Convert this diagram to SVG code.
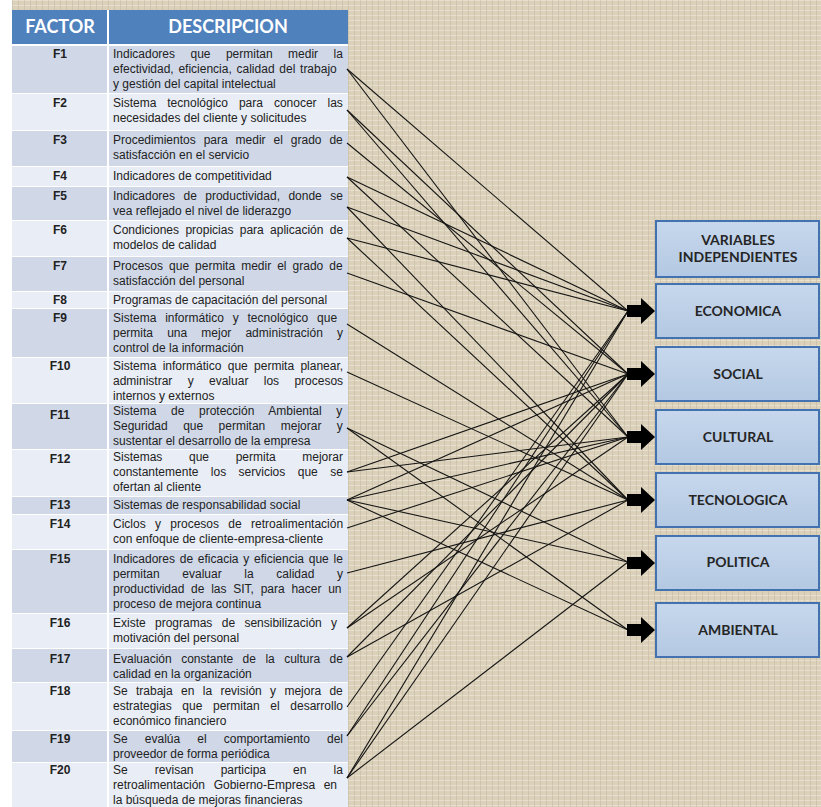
<svg xmlns="http://www.w3.org/2000/svg" width="821" height="807" viewBox="0 0 821 807">
<defs>
<pattern id="burlap" width="6" height="5" patternUnits="userSpaceOnUse">
<rect width="6" height="5" fill="#dbd0b9"/>
<path d="M0 0.5H6" stroke="#e8e0cf" stroke-width="1"/>
<path d="M0.5 0V5" stroke="#c8bba1" stroke-width="1" opacity="0.6"/>
</pattern>
<linearGradient id="boxg" x1="0" y1="0" x2="0" y2="1"><stop offset="0" stop-color="#c7d8ed"/><stop offset="1" stop-color="#b3c8e2"/></linearGradient>
<path id="arr" d="M0,-6H14V-13L28,0L14,13V6H0Z"/>
</defs>
<style>
.d{font-family:"Liberation Sans",Arial,sans-serif;font-size:12px;fill:#222}
.f{font-family:"Liberation Sans",Arial,sans-serif;font-size:12px;font-weight:bold;fill:#222;text-anchor:middle}
.h{font-family:Lato,"Open Sans",sans-serif;font-size:18px;font-weight:bold;fill:#fff;text-anchor:middle}
.hd{fill:#4f81bd}
.rd{fill:#d0d8e8}
.rl{fill:#e9edf5}
.box{fill:url(#boxg);stroke:#4272b0;stroke-width:2}
.bt{font-family:Lato,"Open Sans",sans-serif;font-size:14px;font-weight:bold;fill:#262626;text-anchor:middle}
.c line{stroke:#151515;stroke-width:1.1}
.c use{fill:#000}
</style>
<rect width="821" height="807" fill="#fff"/>
<rect x="12" width="809" height="807" fill="url(#burlap)"/>
<rect x="12" y="10" width="336" height="797" fill="#fff"/>

<g id="header">
<rect class="hd" x="12" y="10" width="95" height="34"/>
<rect class="hd" x="109" y="10" width="239" height="34"/>
<text class="h" x="60" y="33">FACTOR</text>
<text class="h" x="228" y="33">DESCRIPCION</text>
</g>

<g id="f1">
<rect class="rd" x="12" y="46" width="95" height="47"/><rect class="rd" x="109" y="46" width="239" height="47"/>
<text class="f" x="60" y="58">F1</text>
<text class="d" x="113" y="58" word-spacing="12.1">Indicadores que permitan medir la</text>
<text class="d" x="113" y="73" word-spacing="1.4">efectividad, eficiencia, calidad del trabajo</text>
<text class="d" x="113" y="88">y gestión del capital intelectual</text>
</g>
<g id="f2">
<rect class="rl" x="12" y="94" width="95" height="36"/><rect class="rl" x="109" y="94" width="239" height="36"/>
<text class="f" x="60" y="107">F2</text>
<text class="d" x="113" y="107" word-spacing="7.6">Sistema tecnológico para conocer las</text>
<text class="d" x="113" y="122">necesidades del cliente y solicitudes</text>
</g>
<g id="f3">
<rect class="rd" x="12" y="131" width="95" height="35"/><rect class="rd" x="109" y="131" width="239" height="35"/>
<text class="f" x="60" y="144">F3</text>
<text class="d" x="113" y="144" word-spacing="4.6">Procedimientos para medir el grado de</text>
<text class="d" x="113" y="159">satisfacción en el servicio</text>
</g>
<g id="f4">
<rect class="rl" x="12" y="167" width="95" height="19"/><rect class="rl" x="109" y="167" width="239" height="19"/>
<text class="f" x="60" y="180">F4</text>
<text class="d" x="113" y="180">Indicadores de competitividad</text>
</g>
<g id="f5">
<rect class="rd" x="12" y="187" width="95" height="33"/><rect class="rd" x="109" y="187" width="239" height="33"/>
<text class="f" x="60" y="200">F5</text>
<text class="d" x="113" y="200" word-spacing="5.1">Indicadores de productividad, donde se</text>
<text class="d" x="113" y="215">vea reflejado el nivel de liderazgo</text>
</g>
<g id="f6">
<rect class="rl" x="12" y="221" width="95" height="35"/><rect class="rl" x="109" y="221" width="239" height="35"/>
<text class="f" x="60" y="234">F6</text>
<text class="d" x="113" y="234" word-spacing="3">Condiciones propicias para aplicación de</text>
<text class="d" x="113" y="249">modelos de calidad</text>
</g>
<g id="f7">
<rect class="rd" x="12" y="257" width="95" height="34"/><rect class="rd" x="109" y="257" width="239" height="34"/>
<text class="f" x="60" y="270">F7</text>
<text class="d" x="113" y="270" word-spacing="2.7">Procesos que permita medir el grado de</text>
<text class="d" x="113" y="285">satisfacción del personal</text>
</g>
<g id="f8">
<rect class="rl" x="12" y="292" width="95" height="16"/><rect class="rl" x="109" y="292" width="239" height="16"/>
<text class="f" x="60" y="304">F8</text>
<text class="d" x="113" y="304">Programas de capacitación del personal</text>
</g>
<g id="f9">
<rect class="rd" x="12" y="309" width="95" height="48"/><rect class="rd" x="109" y="309" width="239" height="48"/>
<text class="f" x="60" y="322">F9</text>
<text class="d" x="113" y="322" word-spacing="5.5">Sistema informático y tecnológico que</text>
<text class="d" x="113" y="337" word-spacing="10.8">permita una mejor administración y</text>
<text class="d" x="113" y="352">control de la información</text>
</g>
<g id="f10">
<rect class="rl" x="12" y="358" width="95" height="45"/><rect class="rl" x="109" y="358" width="239" height="45"/>
<text class="f" x="60" y="370">F10</text>
<text class="d" x="113" y="370" word-spacing="3">Sistema informático que permita planear,</text>
<text class="d" x="113" y="385" word-spacing="12">administrar y evaluar los procesos</text>
<text class="d" x="113" y="400">internos y externos</text>
</g>
<g id="f11">
<rect class="rd" x="12" y="404" width="95" height="45"/><rect class="rd" x="109" y="404" width="239" height="45"/>
<text class="f" x="60" y="419">F11</text>
<text class="d" x="113" y="415" word-spacing="11.3">Sistema de protección Ambiental y</text>
<text class="d" x="113" y="430" word-spacing="12.1">Seguridad que permitan mejorar y</text>
<text class="d" x="113" y="445">sustentar el desarrollo de la empresa</text>
</g>
<g id="f12">
<rect class="rl" x="12" y="450" width="95" height="46"/><rect class="rl" x="109" y="450" width="239" height="46"/>
<text class="f" x="60" y="463">F12</text>
<text class="d" x="113" y="461" word-spacing="23.3">Sistemas que permita mejorar</text>
<text class="d" x="113" y="476" word-spacing="9.1">constantemente los servicios que se</text>
<text class="d" x="113" y="491">ofertan al cliente</text>
</g>
<g id="f13">
<rect class="rd" x="12" y="497" width="95" height="17"/><rect class="rd" x="109" y="497" width="239" height="17"/>
<text class="f" x="60" y="509">F13</text>
<text class="d" x="113" y="509">Sistemas de responsabilidad social</text>
</g>
<g id="f14">
<rect class="rl" x="12" y="515" width="95" height="34"/><rect class="rl" x="109" y="515" width="239" height="34"/>
<text class="f" x="60" y="528">F14</text>
<text class="d" x="113" y="528" word-spacing="6">Ciclos y procesos de retroalimentación</text>
<text class="d" x="113" y="543">con enfoque de cliente-empresa-cliente</text>
</g>
<g id="f15">
<rect class="rd" x="12" y="550" width="95" height="63"/><rect class="rd" x="109" y="550" width="239" height="63"/>
<text class="f" x="60" y="563">F15</text>
<text class="d" x="113" y="563" word-spacing="1.4">Indicadores de eficacia y eficiencia que le</text>
<text class="d" x="113" y="578" word-spacing="19.3">permitan evaluar la calidad y</text>
<text class="d" x="113" y="593" word-spacing="3.4">productividad de las SIT, para hacer un</text>
<text class="d" x="113" y="608">proceso de mejora continua</text>
</g>
<g id="f16">
<rect class="rl" x="12" y="614" width="95" height="34"/><rect class="rl" x="109" y="614" width="239" height="34"/>
<text class="f" x="60" y="627">F16</text>
<text class="d" x="113" y="627" word-spacing="6">Existe programas de sensibilización y</text>
<text class="d" x="113" y="642">motivación del personal</text>
</g>
<g id="f17">
<rect class="rd" x="12" y="649" width="95" height="33"/><rect class="rd" x="109" y="649" width="239" height="33"/>
<text class="f" x="60" y="663">F17</text>
<text class="d" x="113" y="663" word-spacing="6.1">Evaluación constante de la cultura de</text>
<text class="d" x="113" y="678">calidad en la organización</text>
</g>
<g id="f18">
<rect class="rl" x="12" y="683" width="95" height="47"/><rect class="rl" x="109" y="683" width="239" height="47"/>
<text class="f" x="60" y="695">F18</text>
<text class="d" x="113" y="695" word-spacing="5">Se trabaja en la revisión y mejora de</text>
<text class="d" x="113" y="710" word-spacing="7.3">estrategias que permitan el desarrollo</text>
<text class="d" x="113" y="725">económico financiero</text>
</g>
<g id="f19">
<rect class="rd" x="12" y="731" width="95" height="31"/><rect class="rd" x="109" y="731" width="239" height="31"/>
<text class="f" x="60" y="743">F19</text>
<text class="d" x="113" y="743" word-spacing="13.8">Se evalúa el comportamiento del</text>
<text class="d" x="113" y="758">proveedor de forma periódica</text>
</g>
<g id="f20">
<rect class="rl" x="12" y="763" width="95" height="44"/><rect class="rl" x="109" y="763" width="239" height="44"/>
<text class="f" x="60" y="774">F20</text>
<text class="d" x="113" y="774" word-spacing="23.8">Se revisan participa en la</text>
<text class="d" x="113" y="789" word-spacing="5.3">retroalimentación Gobierno-Empresa en</text>
<text class="d" x="113" y="804">la búsqueda de mejoras financieras</text>
</g>

<g id="v-header"><rect class="box" x="656" y="221" width="163" height="56"/><text class="bt" x="738" y="245">VARIABLES</text><text class="bt" x="738" y="262">INDEPENDIENTES</text></g>
<g id="v-economica"><rect class="box" x="656" y="284" width="163" height="54"/><text class="bt" x="738" y="316">ECONOMICA</text></g>
<g id="v-social"><rect class="box" x="656" y="347" width="163" height="54"/><text class="bt" x="738" y="379">SOCIAL</text></g>
<g id="v-cultural"><rect class="box" x="656" y="410" width="163" height="54"/><text class="bt" x="738" y="442">CULTURAL</text></g>
<g id="v-tecnologica"><rect class="box" x="656" y="473" width="163" height="54"/><text class="bt" x="738" y="505">TECNOLOGICA</text></g>
<g id="v-politica"><rect class="box" x="656" y="536" width="163" height="54"/><text class="bt" x="738" y="567">POLITICA</text></g>
<g id="v-ambiental"><rect class="box" x="656" y="603" width="163" height="54"/><text class="bt" x="738" y="635">AMBIENTAL</text></g>

<g id="connectors" class="c">
<line x1="347" y1="69" x2="628" y2="311"/>
<line x1="347" y1="69" x2="628" y2="437"/>
<line x1="347" y1="110" x2="628" y2="374"/>
<line x1="347" y1="110" x2="628" y2="437"/>
<line x1="347" y1="143" x2="628" y2="374"/>
<line x1="347" y1="177" x2="628" y2="311"/>
<line x1="347" y1="177" x2="628" y2="437"/>
<line x1="347" y1="207" x2="628" y2="311"/>
<line x1="347" y1="207" x2="628" y2="500"/>
<line x1="347" y1="238" x2="628" y2="311"/>
<line x1="347" y1="238" x2="628" y2="500"/>
<line x1="347" y1="273" x2="628" y2="374"/>
<line x1="347" y1="324" x2="628" y2="500"/>
<line x1="347" y1="372" x2="628" y2="500"/>
<line x1="347" y1="428" x2="628" y2="562"/>
<line x1="347" y1="428" x2="628" y2="630"/>
<line x1="347" y1="472" x2="628" y2="374"/>
<line x1="347" y1="472" x2="628" y2="437"/>
<line x1="347" y1="500" x2="628" y2="374"/>
<line x1="347" y1="500" x2="628" y2="437"/>
<line x1="347" y1="500" x2="628" y2="562"/>
<line x1="347" y1="500" x2="628" y2="630"/>
<line x1="347" y1="528" x2="628" y2="437"/>
<line x1="347" y1="573" x2="628" y2="500"/>
<line x1="347" y1="628" x2="628" y2="374"/>
<line x1="347" y1="628" x2="628" y2="437"/>
<line x1="347" y1="657" x2="628" y2="374"/>
<line x1="347" y1="657" x2="628" y2="500"/>
<line x1="347" y1="707" x2="628" y2="311"/>
<line x1="347" y1="736" x2="628" y2="311"/>
<line x1="347" y1="736" x2="628" y2="374"/>
<line x1="347" y1="778" x2="628" y2="311"/>
<line x1="347" y1="778" x2="628" y2="374"/>
<line x1="347" y1="778" x2="628" y2="562"/>
<use href="#arr" x="627" y="311"/>
<use href="#arr" x="627" y="374"/>
<use href="#arr" x="627" y="437"/>
<use href="#arr" x="627" y="500"/>
<use href="#arr" x="627" y="563"/>
<use href="#arr" x="627" y="630"/>
</g>
</svg>
